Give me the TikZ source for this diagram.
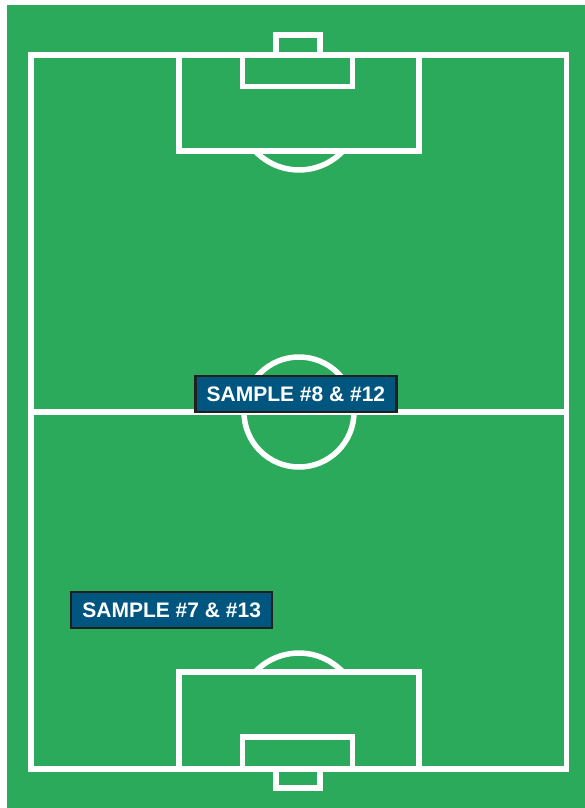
\documentclass[tikz,border=0pt]{standalone}
\usepackage{fontspec}
\setmainfont{Liberation Sans}
\definecolor{pitch}{HTML}{2BAA5B}
\definecolor{labelfill}{HTML}{00567F}
\definecolor{labeledge}{HTML}{231F20}
\begin{document}
\begin{tikzpicture}[x=1pt,y=-1pt,
  pline/.style={draw=white,line width=5.5pt},
  samplebox/.style={draw=labeledge,line width=2.5pt,fill=labelfill,text=white,
    font=\bfseries\fontsize{21}{24}\selectfont,inner sep=0pt,
    minimum width=201pt,minimum height=36pt}]
\useasboundingbox (0,0) rectangle (585,808);
\fill[white] (0,0) rectangle (585,808);
\fill[pitch] (7,5) rectangle (585,808);
% outer field
\draw[pline] (31,55) rectangle (566.5,769);
\draw[pline] (31,412) -- (566.5,412);
\draw[pline] (299,412) circle[radius=55pt];
% top end
\draw[pline] (179,55) rectangle (419,151);
\draw[pline] (242.5,55) rectangle (352.7,86.5);
\draw[pline] (276,35) rectangle (320,55);
\draw[pline] (343,151) arc[start angle=-43.3,end angle=-136.7,radius=60.4pt];
% bottom end
\draw[pline] (179,672) rectangle (419,769);
\draw[pline] (242.5,737) rectangle (352.7,769);
\draw[pline] (276,769) rectangle (320,788);
\draw[pline] (255,672) arc[start angle=136.7,end angle=43.3,radius=60.4pt];
% labels
\node[samplebox] (s8) at (295.9,394.2) {SAMPLE \#8 \& \#12};
\node[samplebox] (s7) at (171.7,610) {SAMPLE \#7 \& \#13};
\end{tikzpicture}
\end{document}
